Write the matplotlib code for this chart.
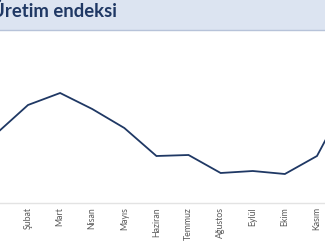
import matplotlib
matplotlib.use("Agg")
import matplotlib.pyplot as plt
from matplotlib.patches import Rectangle

# Monthly index values (arbitrary units)
months = ["Ocak", "Şubat", "Mart", "Nisan", "Mayıs", "Haziran",
          "Temmuz", "Ağustos", "Eylül", "Ekim", "Kasım", "Aralık"]
values = [66, 95, 107, 91, 72, 44, 45, 27, 29, 26, 44, 104]
title = "Üretim endeksi"

W, H = 325, 250
fig = plt.figure(figsize=(W / 100, H / 100), dpi=100)
fig.patch.set_facecolor("white")

# Title band
fig.patches.append(Rectangle((0, 1 - 30 / H), 1, 30 / H, transform=fig.transFigure,
                             facecolor="#dce4f1", edgecolor="none", zorder=0))
fig.add_artist(plt.Line2D([0, 1], [1 - 30 / H, 1 - 30 / H], transform=fig.transFigure,
                          color="#b7c3d9", lw=1.0))
fig.text(117 / W, 1 - 16.5 / H, title, ha="right", va="baseline", fontsize=13.3,
         fontweight="bold", color="#1f3864", family="Lato")

# Plot area
ax = fig.add_axes([0, 47 / H, 1, 173 / H])
x = list(range(len(months)))
ax.plot(x, values, color="#1f3864", lw=1.3, solid_joinstyle="miter")

ax.set_xticks(x)
ax.set_xticklabels(months, rotation=90, fontsize=6.3, color="#595959", family="Lato")
ax.set_yticks([])
ax.set_xlim(0.128, 10.25)
ax.set_ylim(-3, 170)
ax.tick_params(axis="x", length=0, pad=3)
for s in ["top", "left", "right"]:
    ax.spines[s].set_visible(False)
ax.spines["bottom"].set_color("#e3e3e3")
ax.spines["bottom"].set_linewidth(1.0)
ax.patch.set_alpha(0)

fig.savefig("out.png", dpi=100)
